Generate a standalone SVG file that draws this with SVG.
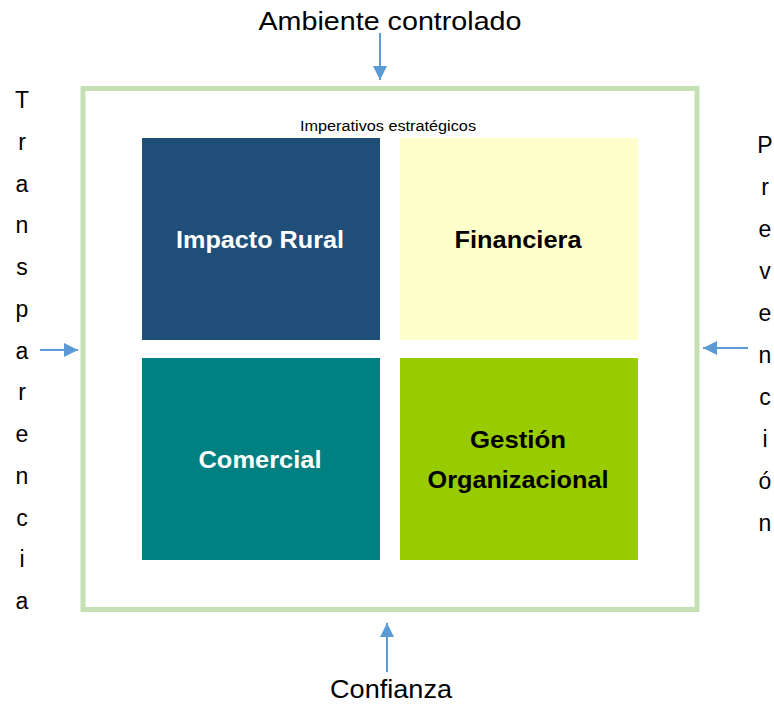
<svg xmlns="http://www.w3.org/2000/svg" width="774" height="705" viewBox="0 0 774 705">
<defs>
<marker id="ah" viewBox="0 0 14 14" refX="14" refY="7" markerWidth="14" markerHeight="14" markerUnits="userSpaceOnUse" orient="auto">
<path d="M0,0 L14,7 L0,14 z" fill="#5b9bd5"/>
</marker>
<style>
.lbl{font-family:"Liberation Sans",Arial,sans-serif;font-size:25px;fill:#000;text-anchor:middle}
.side{font-family:"Liberation Sans",Arial,sans-serif;font-size:23px;fill:#000;text-anchor:middle}
.box{font-family:"Liberation Sans",Arial,sans-serif;font-size:24px;font-weight:bold;text-anchor:middle}
.small{font-family:"Liberation Sans",Arial,sans-serif;font-size:14px;fill:#000;text-anchor:middle}
.conn{stroke:#5b9bd5;stroke-width:2;fill:none;marker-end:url(#ah)}
</style>
</defs>
<rect width="774" height="705" fill="#fff"/>
<g id="frame">
<rect x="83" y="88.5" width="614" height="521" fill="none" stroke="#c5e0b4" stroke-width="5"/>
<text class="small" x="388" y="131" textLength="176" lengthAdjust="spacingAndGlyphs">Imperativos estratégicos</text>
</g>
<g id="impacto-rural">
<rect x="142" y="138" width="238" height="202" fill="#1f4e79"/>
<text class="box" x="260" y="248" fill="#fff" textLength="168" lengthAdjust="spacingAndGlyphs">Impacto Rural</text>
</g>
<g id="financiera">
<rect x="400" y="138" width="238" height="202" fill="#ffffcc"/>
<text class="box" x="518" y="248" fill="#000" textLength="127" lengthAdjust="spacingAndGlyphs">Financiera</text>
</g>
<g id="comercial">
<rect x="142" y="358" width="238" height="202" fill="#008080"/>
<text class="box" x="260" y="468" fill="#fff" textLength="123" lengthAdjust="spacingAndGlyphs">Comercial</text>
</g>
<g id="gestion">
<rect x="400" y="358" width="238" height="202" fill="#99cc00"/>
<text class="box" x="518" y="448" fill="#000" textLength="96" lengthAdjust="spacingAndGlyphs">Gestión</text>
<text class="box" x="518" y="488" fill="#000" textLength="181" lengthAdjust="spacingAndGlyphs">Organizacional</text>
</g>
<g id="ambiente">
<text class="lbl" x="390" y="30" textLength="263" lengthAdjust="spacingAndGlyphs">Ambiente controlado</text>
</g>
<g id="confianza">
<text class="lbl" x="391" y="698" textLength="122" lengthAdjust="spacingAndGlyphs">Confianza</text>
</g>
<g id="transparencia">
<text class="side" x="22" y="108"><tspan x="22">T</tspan><tspan x="22" dy="41.75">r</tspan><tspan x="22" dy="41.75">a</tspan><tspan x="22" dy="41.75">n</tspan><tspan x="22" dy="41.75">s</tspan><tspan x="22" dy="41.75">p</tspan><tspan x="22" dy="41.75">a</tspan><tspan x="22" dy="41.75">r</tspan><tspan x="22" dy="41.75">e</tspan><tspan x="22" dy="41.75">n</tspan><tspan x="22" dy="41.75">c</tspan><tspan x="22" dy="41.75">i</tspan><tspan x="22" dy="41.75">a</tspan></text>
</g>
<g id="prevencion">
<text class="side" x="765" y="153"><tspan x="765">P</tspan><tspan x="765" dy="42">r</tspan><tspan x="765" dy="42">e</tspan><tspan x="765" dy="42">v</tspan><tspan x="765" dy="42">e</tspan><tspan x="765" dy="42">n</tspan><tspan x="765" dy="42">c</tspan><tspan x="765" dy="42">i</tspan><tspan x="765" dy="42">ó</tspan><tspan x="765" dy="42">n</tspan></text>
</g>
<g id="connectors">
<line class="conn" x1="380" y1="33" x2="380" y2="80"/>
<line class="conn" x1="387" y1="672" x2="387" y2="623"/>
<line class="conn" x1="40" y1="350" x2="78" y2="350"/>
<line class="conn" x1="748" y1="348" x2="703" y2="348"/>
</g>
</svg>
